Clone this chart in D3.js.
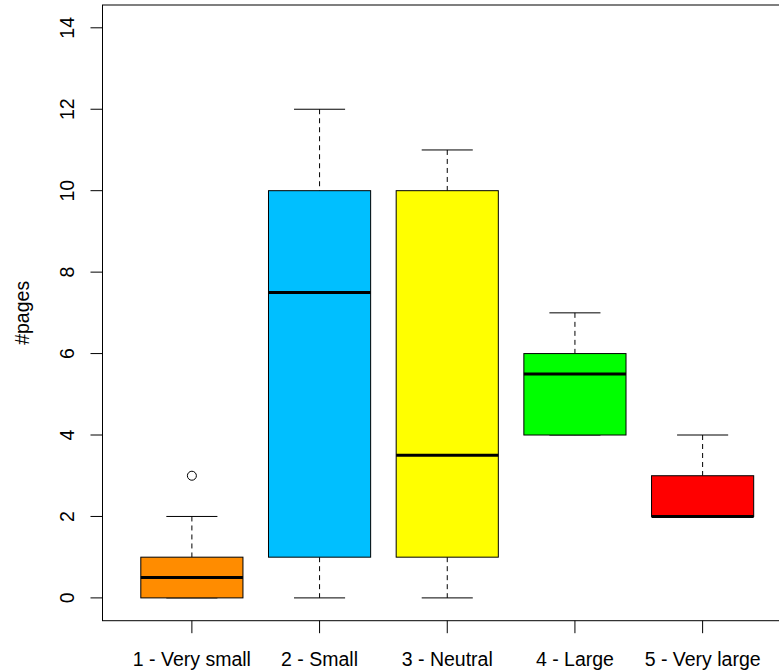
<!DOCTYPE html>
<html>
<head>
<meta charset="utf-8">
<script src="https://cdn.jsdelivr.net/npm/d3@7"></script>
<style>
  html, body { margin: 0; padding: 0; background: #fff; }
  svg { display: block; }
  text { font-family: "Liberation Sans", Arial, sans-serif; fill: #000; }
</style>
</head>
<body>
<svg id="chart" width="779" height="672"></svg>
<script>
// Page counts per size rating: five-number summaries plus outliers
const categories = ["1 - Very small", "2 - Small", "3 - Neutral", "4 - Large", "5 - Very large"];
const lowerWhisker = [0, 0, 0, 4, 2];
const q1 = [0, 1, 1, 4, 2];
const median = [0.5, 7.5, 3.5, 5.5, 2];
const q3 = [1, 10, 10, 6, 3];
const upperWhisker = [2, 12, 11, 7, 4];
const outliers = [[3], [], [], [], []];
const fills = ["#FF8C00", "#00BFFF", "#FFFF00", "#00FF00", "#FF0000"];
const yTicks = [0, 2, 4, 6, 8, 10, 12, 14];
const yLabel = "#pages";

const svg = d3.select("#chart");

const plot = { left: 102.5, right: 792, top: 5, bottom: 620.7 };

// Numeric positions 1..n, padded like a classic boxplot frame
const x = d3.scaleLinear().domain([0.3, categories.length + 0.7]).range([plot.left, plot.right]);
const y = d3.scaleLinear().domain([-0.56, 14.56]).range([plot.bottom, plot.top]);

const boxHalf = 0.4, capHalf = 0.2;

const data = categories.map((c, i) => ({
  name: c, pos: i + 1,
  lo: lowerWhisker[i], q1: q1[i], med: median[i], q3: q3[i], hi: upperWhisker[i],
  out: outliers[i], fill: fills[i]
}));

const g = svg.append("g");

const boxes = g.selectAll("g.box").data(data).join("g").attr("class", "box");

// Dashed whiskers
boxes.append("line")
  .attr("x1", d => x(d.pos)).attr("x2", d => x(d.pos))
  .attr("y1", d => y(d.hi)).attr("y2", d => y(d.q3))
  .attr("stroke", "#000").attr("stroke-width", 1).attr("stroke-dasharray", "5,4");
boxes.append("line")
  .attr("x1", d => x(d.pos)).attr("x2", d => x(d.pos))
  .attr("y1", d => y(d.q1)).attr("y2", d => y(d.lo))
  .attr("stroke", "#000").attr("stroke-width", 1).attr("stroke-dasharray", "5,4");

// Whisker caps
boxes.append("line")
  .attr("x1", d => x(d.pos - capHalf)).attr("x2", d => x(d.pos + capHalf))
  .attr("y1", d => y(d.hi)).attr("y2", d => y(d.hi))
  .attr("stroke", "#000").attr("stroke-width", 1);
boxes.append("line")
  .attr("x1", d => x(d.pos - capHalf)).attr("x2", d => x(d.pos + capHalf))
  .attr("y1", d => y(d.lo)).attr("y2", d => y(d.lo))
  .attr("stroke", "#000").attr("stroke-width", 1);

// Boxes
boxes.append("rect")
  .attr("x", d => x(d.pos - boxHalf))
  .attr("width", d => x(d.pos + boxHalf) - x(d.pos - boxHalf))
  .attr("y", d => y(d.q3))
  .attr("height", d => y(d.q1) - y(d.q3))
  .attr("fill", d => d.fill)
  .attr("stroke", "#000").attr("stroke-width", 1);

// Medians
boxes.append("line")
  .attr("x1", d => x(d.pos - boxHalf)).attr("x2", d => x(d.pos + boxHalf))
  .attr("y1", d => y(d.med)).attr("y2", d => y(d.med))
  .attr("stroke", "#000").attr("stroke-width", 3);

// Outliers
boxes.selectAll("circle").data(d => d.out.map(v => ({ pos: d.pos, v })))
  .join("circle")
  .attr("cx", d => x(d.pos)).attr("cy", d => y(d.v)).attr("r", 4.5)
  .attr("fill", "none").attr("stroke", "#000").attr("stroke-width", 1);

// Plot frame
svg.append("rect")
  .attr("x", plot.left).attr("y", plot.top)
  .attr("width", plot.right - plot.left).attr("height", plot.bottom - plot.top)
  .attr("fill", "none").attr("stroke", "#000").attr("stroke-width", 1);

// Y axis: ticks and rotated labels
const yAxis = svg.append("g");
yAxis.selectAll("line").data(yTicks).join("line")
  .attr("x1", plot.left - 12).attr("x2", plot.left)
  .attr("y1", d => y(d)).attr("y2", d => y(d))
  .attr("stroke", "#000").attr("stroke-width", 1);
yAxis.selectAll("text").data(yTicks).join("text")
  .attr("transform", d => `translate(74,${y(d)}) rotate(-90)`)
  .attr("text-anchor", "middle")
  .style("font-size", "19.5px")
  .text(d => d);

// X axis: ticks and category labels
const xAxis = svg.append("g");
xAxis.selectAll("line").data(data).join("line")
  .attr("x1", d => x(d.pos)).attr("x2", d => x(d.pos))
  .attr("y1", plot.bottom).attr("y2", plot.bottom + 12.5)
  .attr("stroke", "#000").attr("stroke-width", 1);
xAxis.selectAll("text").data(data).join("text")
  .attr("x", d => x(d.pos)).attr("y", 666)
  .attr("text-anchor", "middle")
  .style("font-size", "19.5px")
  .text(d => d.name);

// Y axis title
svg.append("text")
  .attr("transform", `translate(29,${(plot.top + plot.bottom) / 2}) rotate(-90)`)
  .attr("text-anchor", "middle")
  .style("font-size", "19.5px")
  .text(yLabel);
</script>
</body>
</html>
